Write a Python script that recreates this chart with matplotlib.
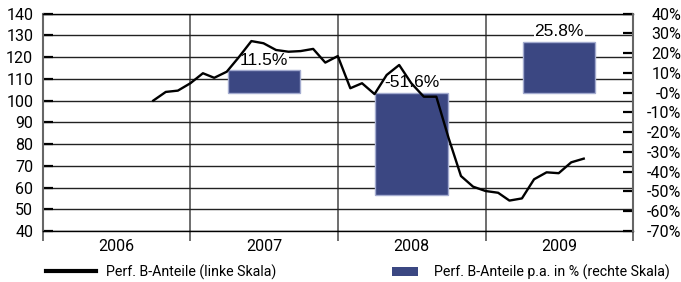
import numpy as np
import matplotlib
matplotlib.use('Agg')
import matplotlib.pyplot as plt
from matplotlib.lines import Line2D
from matplotlib.patches import Patch
import pandas as pd

plt.rcParams['font.family'] = ['Roboto', 'DejaVu Sans']

# monthly index values (left scale)
months = pd.date_range('2006-10-01', '2009-09-01', freq='MS')
kurs = [100.0, 104.0, 104.6, 108.0, 112.6, 110.5, 113.3, 120.0, 127.4, 126.4,
        123.3, 122.5, 122.8, 123.8, 117.5, 120.5, 105.7, 108.0, 103.0, 111.8,
        116.4, 108.0, 101.8, 101.8, 83.0, 65.3, 60.4, 58.4, 57.6, 54.0,
        55.0, 63.8, 67.0, 66.6, 71.6, 73.3]

# yearly performance in % (right scale)
jahre = ['2006', '2007', '2008', '2009']
perf_jahre = ['2007', '2008', '2009']
perf = [11.5, -51.6, 25.8]
perf_labels = ['11.5%', '-51.6%', '25.8%']

right_ticks = [40, 30, 20, 10, 0, -10, -20, -30, -40, -50, -60, -70]
right_ticklabels = ['40%', '30%', '20%', '10%', '-0%', '-10%', '-20%', '-30%',
                    '-40%', '-50%', '-60%', '-70%']

fig = plt.figure(figsize=(6.81, 2.82), dpi=100)
ax = fig.add_axes([43/681, 1-231/282, 590/681, (231-13.7)/282])
ax2 = ax.twinx()

x0 = pd.Timestamp('2006-01-01')
x1 = pd.Timestamp('2010-01-01')
grenzen = pd.to_datetime([f'{j}-01-01' for j in range(2006, 2011)])
mitten = pd.to_datetime([f'{j}-07-02' for j in jahre])

# left axis: grid
ax.set_xlim(x0, x1)
ax.set_ylim(40, 140)
ax.set_yticks(np.arange(40, 141, 10))
ax.set_xticks(grenzen)
ax.set_xticklabels([''] * len(grenzen))
ax.set_xticks(mitten, minor=True)
ax.set_xticklabels(jahre, minor=True)
ax.grid(axis='y', color='#222222', lw=1.0)
ax.grid(axis='x', which='major', color='#555555', lw=1.2)
ax.tick_params(axis='y', direction='in', length=7, width=1.6, labelsize=11.5, pad=7)
ax.tick_params(axis='x', which='major', direction='out', length=7.2, width=1.2,
               color='#555555')
ax.tick_params(axis='x', which='minor', length=0, labelsize=11.5, pad=6)
for s in ['top', 'bottom']:
    ax.spines[s].set_color('black')
    ax.spines[s].set_linewidth(1.0)
ax.spines['left'].set_color('#666666')
ax.spines['left'].set_linewidth(1.5)
ax.spines['right'].set_visible(False)

# right axis: bars + labels, then line on top
ax2.set_ylim(-70, 40)
ax2.set_yticks(right_ticks)
ax2.set_yticklabels(right_ticklabels)
ax2.tick_params(axis='y', direction='in', length=7, width=1.6, labelsize=11.5, pad=35)
for lab in ax2.get_yticklabels():
    lab.set_ha('right')
for s in ['top', 'bottom', 'left']:
    ax2.spines[s].set_visible(False)
ax2.spines['right'].set_color('#666666')
ax2.spines['right'].set_linewidth(1.5)

bar_x = pd.to_datetime([f'{j}-07-02' for j in perf_jahre])
ax2.bar(bar_x, perf, width=180, color='#3b4782', edgecolor='#a3abcf', lw=1.0, zorder=2)
for bx, v, t in zip(bar_x, perf, perf_labels):
    ax2.text(bx, max(v, 0) + 5, t, ha='center', va='center', fontsize=12.5,
             family='Liberation Sans', zorder=3,
             bbox=dict(boxstyle='square,pad=0.05', fc='white', ec='none'))

ax2.plot(months, kurs, color='black', lw=1.7, transform=ax.transData, zorder=4)
ax2.set_xlim(x0, x1)

# legends
h1 = [Line2D([0], [0], color='black', lw=3)]
leg1 = fig.legend(h1, ['Perf. B-Anteile (linke Skala)'], loc='center left',
                  bbox_to_anchor=(46/681, 1-272/282), frameon=False, fontsize=10.2,
                  handlelength=3.5, handletextpad=0.7, borderpad=0, borderaxespad=0)
h2 = [Patch(facecolor='#3b4782', edgecolor='none')]
leg2 = fig.legend(h2, ['Perf. B-Anteile p.a. in % (rechte Skala)'], loc='center left',
                  bbox_to_anchor=(392/681, 1-272/282), frameon=False, fontsize=10.2,
                  handlelength=1.8, handleheight=0.55, handletextpad=1.2,
                  borderpad=0, borderaxespad=0)

plt.savefig('out.png', dpi=100)
